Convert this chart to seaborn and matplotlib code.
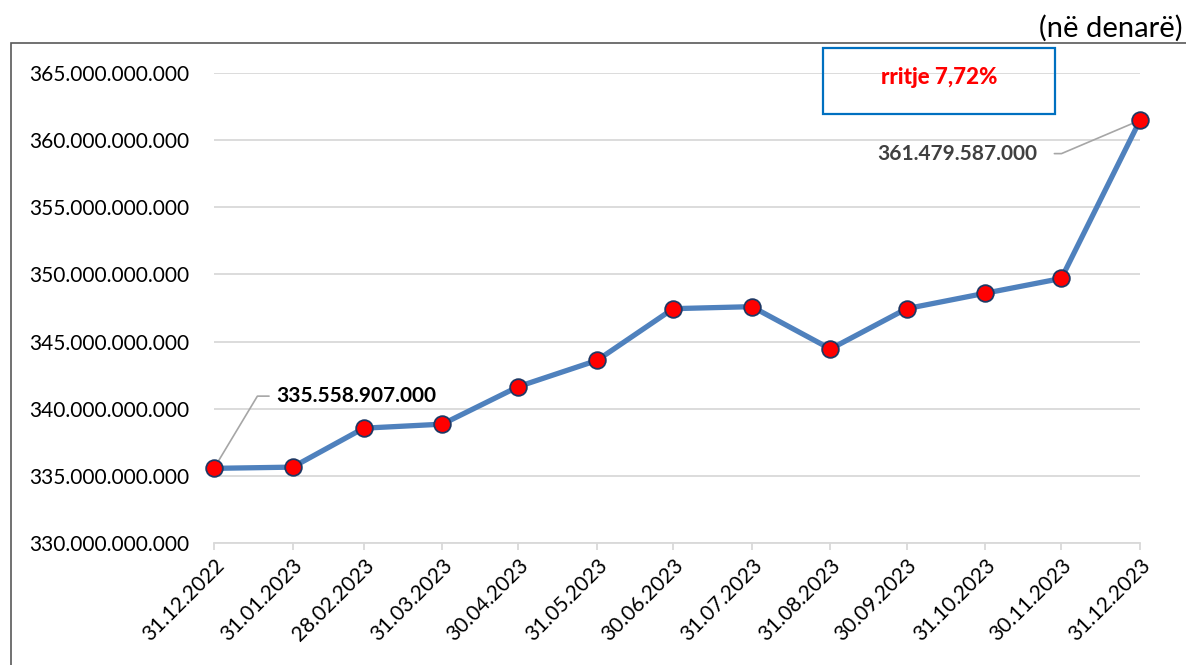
import pandas as pd
import numpy as np
import matplotlib.pyplot as plt
import matplotlib.ticker as mticker
import matplotlib.dates as mdates
from matplotlib.patches import Rectangle
import seaborn as sns

dates = ['31.12.2022', '31.01.2023', '28.02.2023', '31.03.2023', '30.04.2023',
         '31.05.2023', '30.06.2023', '31.07.2023', '31.08.2023', '30.09.2023',
         '31.10.2023', '30.11.2023', '31.12.2023']
values = [335558907000, 335650000000, 338550000000, 338850000000, 341650000000,
          343600000000, 347450000000, 347600000000, 344450000000, 347450000000,
          348600000000, 349700000000, 361479587000]

df = pd.DataFrame({'date': pd.to_datetime(dates, format='%d.%m.%Y'), 'value': values})

sns.set_style('white')
plt.rcParams['font.family'] = ['Lato', 'DejaVu Sans']

fig = plt.figure(figsize=(11.86, 6.65), dpi=100)
ax = fig.add_axes([214/1186, 1-543/665, (1140-214)/1186, (543-73)/665])

sns.lineplot(data=df, x='date', y='value', ax=ax, color='#4F81BD', linewidth=3.8,
             marker='o', markersize=12, markerfacecolor='#FF0000',
             markeredgecolor='#1F3864', markeredgewidth=1.3, clip_on=False, zorder=5)

ax.set_xlim(df['date'].iloc[0], df['date'].iloc[-1])
ax.set_ylim(330e9, 365e9)
ax.yaxis.set_major_locator(mticker.MultipleLocator(5e9))
ax.yaxis.set_major_formatter(mticker.FuncFormatter(lambda v, p: f"{int(v):,}".replace(',', '.')))
ax.set_xticks(df['date'])
ax.xaxis.set_major_formatter(mdates.DateFormatter('%d.%m.%Y'))
plt.setp(ax.get_xticklabels(), rotation=45, ha='right', va='top', rotation_mode='anchor')

ax.grid(axis='y', color='#D9D9D9', linewidth=1.3)
ax.grid(axis='x', visible=False)
for s in ['left', 'right', 'top']:
    ax.spines[s].set_visible(False)
ax.spines['bottom'].set_color('#D9D9D9')
ax.spines['bottom'].set_linewidth(1.3)
ax.tick_params(axis='x', bottom=True, length=5, color='#D9D9D9', width=1.3,
               labelsize=15, pad=4, labelcolor='#000000')
ax.tick_params(axis='y', left=False, labelsize=15, pad=14, labelcolor='#000000')
ax.set_xlabel('')
ax.set_ylabel('')

# data labels with leader lines
ax.annotate('335.558.907.000', xy=(df['date'].iloc[0], values[0]),
            xytext=(45, 52), textcoords='offset points', ha='left', va='center',
            fontsize=15, fontweight='bold', color='#000000',
            arrowprops=dict(arrowstyle='-', color='#A6A6A6', lw=1.2, relpos=(0, 0.5),
                            shrinkA=3, shrinkB=0,
                            connectionstyle='angle,angleA=0,angleB=59,rad=0'))
ax.annotate('361.479.587.000', xy=(df['date'].iloc[-1], values[-1]),
            xytext=(-74, -24), textcoords='offset points', ha='right', va='center',
            fontsize=15, fontweight='bold', color='#404040',
            arrowprops=dict(arrowstyle='-', color='#A6A6A6', lw=1.2, relpos=(1, 0.5),
                            shrinkA=10, shrinkB=0,
                            connectionstyle='angle,angleA=0,angleB=23,rad=0'))

# growth box
fig.patches.append(Rectangle((823/1186, 1-114/665), 232/1186, 66/665, transform=fig.transFigure,
                             fill=False, edgecolor='#0070C0', linewidth=1.6))
fig.text(939/1186, 1-77/665, 'rritje 7,72%', ha='center', va='center', color='#FF0000',
         fontsize=16, fontweight='black')

# outer chart frame
fig.patches.append(Rectangle((11/1186, -0.1), 1.2, 1.1-43/665, transform=fig.transFigure,
                             fill=False, edgecolor='#595959', linewidth=1.2))
fig.text(1183/1186, 1-28/665, '(në denarë)', ha='right', va='center', fontsize=21, color='#000000')

plt.savefig('out.png', dpi=100)
